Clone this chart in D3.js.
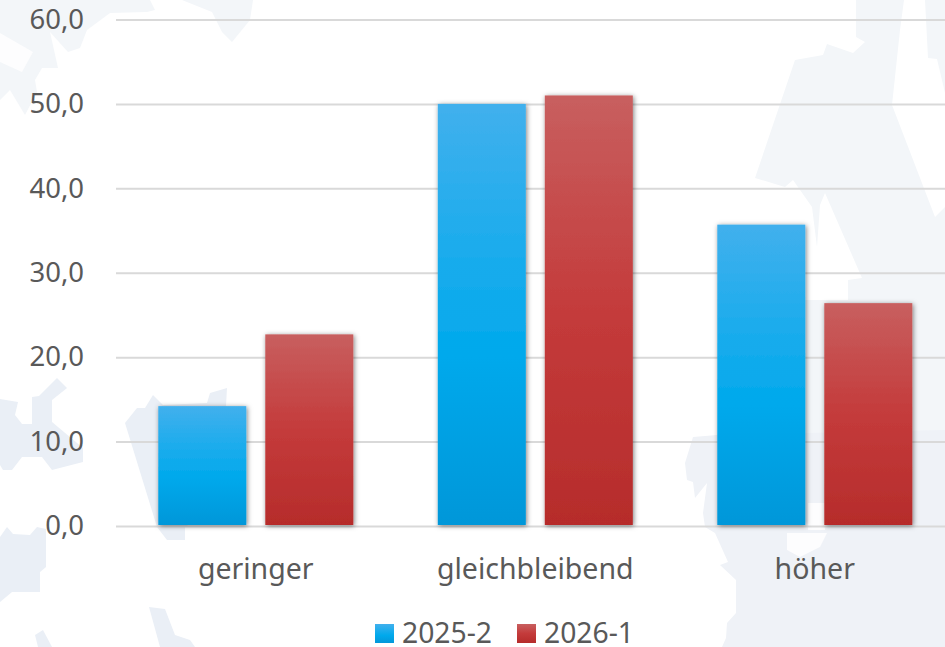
<!DOCTYPE html>
<html>
<head>
<meta charset="utf-8">
<script src="https://cdnjs.cloudflare.com/ajax/libs/d3/7.8.5/d3.min.js"></script>
<style>
  html, body { margin: 0; padding: 0; background: #fff; overflow: hidden; }
  text { font-family: "Noto Sans", sans-serif; fill: #595959; }
</style>
</head>
<body>
<div id="chart"></div>
<script>
var categories = ["geringer", "gleichbleibend", "höher"];
var series_names = ["2025-2", "2026-1"];
var values_2025_2 = [14.2, 50.0, 35.7];
var values_2026_1 = [22.7, 51.0, 26.4];
var y_ticks = [0, 10, 20, 30, 40, 50, 60];

// Pale map shapes behind the plot.
var backdrop_upper = [
    "0,0 150,0 155,10 147,12 110,13 87,30 80,48 68,52 50,32 58,68 42,68 35,80 37,92 25,115 10,90 0,100",
    "182,0 253,0 250,20 232,42 222,32 212,12",
    "795,60 823,55 827,44 853,53 865,42 856,37 856,0 904,0 900,30 892,105 935,217 945,207 945,440 805,440 717,435 805,300 848,300 848,280 862,278 825,193 820,205 817,247 812,207 793,180 785,187 755,178",
    "925,0 945,0 945,93 937,59 928,58"
];
var backdrop_lower = [
    "0,399 18,402 15,415 22,424 32,424 32,397 39,396 57,378 67,388 52,400 52,422 83,448 83,462 52,470 42,457 22,457 12,470 3,470 0,465",
    "125,423 137,408 145,408 153,395 163,405 207,403 210,393 227,388 226,406 230,500 185,527 185,540 167,540 157,527",
    "0,537 7,527 13,534 30,535 37,527 46,529 46,567 40,572 40,592 12,592 0,602",
    "149,607 165,609 175,635 190,640 195,647 160,647",
    "35,635 43,630 52,647 38,647"
];
var backdrop_right = [
    "945,430 717,435 693,437 685,463 687,480 693,482 695,498 707,483 703,513 705,527 715,533 728,562 720,565 736,580 736,613 727,623 726,638 722,647 945,647"
];
var backdrop_cuts = [
    "0,33 33,52 22,72 0,62",
    "808,503 825,503 825,530 808,530",
    "787,533 827,533 820,547 800,557 787,550"
];

var width = 945, height = 647;
var svg = d3.select("#chart").append("svg")
    .attr("width", width)
    .attr("height", height);

var defs = svg.append("defs");
function add_gradient(id, stops)
{
    var g = defs.append("linearGradient")
        .attr("id", id)
        .attr("x1", 0).attr("y1", 0).attr("x2", 0).attr("y2", 1);
    stops.forEach(function(s)
    {
        g.append("stop").attr("offset", s[0]).attr("stop-color", s[1]);
    });
}
add_gradient("grad0", [[0, "#41b0ed"], [0.6, "#00a9ec"], [1, "#0497d9"]]);
add_gradient("grad1", [[0, "#c85f5f"], [0.5, "#c43b3b"], [1, "#b62c2b"]]);
var shadow = defs.append("filter").attr("id", "shadow")
    .attr("x", "-20%").attr("y", "-10%").attr("width", "140%").attr("height", "120%");
shadow.append("feDropShadow")
    .attr("dx", 1).attr("dy", 1).attr("stdDeviation", 2.5)
    .attr("flood-color", "#000").attr("flood-opacity", 0.5);

function draw_backdrop(shapes, colour)
{
    svg.append("g").selectAll("polygon")
        .data(shapes)
        .enter().append("polygon")
        .attr("points", function(d) { return d; })
        .attr("fill", colour);
}
draw_backdrop(backdrop_upper, "#f3f6f9");
draw_backdrop(backdrop_right, "#eff2f7");
draw_backdrop(backdrop_lower, "#eaeff6");
draw_backdrop(backdrop_cuts, "#fdfdfe");

var y = d3.scaleLinear().domain([0, 60]).range([526, 19.5]);
var x0 = d3.scaleBand().domain(categories).range([116, 954.5]);
var x1 = d3.scaleBand().domain(series_names).range([42.3, 237.3]).paddingInner(0.1776);

var grid = d3.axisLeft(y)
    .tickValues(y_ticks)
    .tickSize(-829)
    .tickPadding(32)
    .tickFormat(function(d) { return d3.format(".1f")(d).replace(".", ","); });
var y_axis = svg.append("g")
    .attr("transform", "translate(116,0)")
    .call(grid);
y_axis.select(".domain").remove();
y_axis.selectAll("line").attr("stroke", "#d9d9d9").attr("stroke-width", 2);
y_axis.selectAll("text").attr("font-size", 27.5).attr("fill", "#595959")
    .attr("font-family", "\"Noto Sans\", sans-serif");

var x_axis = d3.axisBottom(x0).tickSize(0).tickPadding(33);
var x_g = svg.append("g").attr("transform", "translate(0,526)").call(x_axis);
x_g.select(".domain").remove();
x_g.selectAll("text").attr("font-size", 28.5).attr("fill", "#595959")
    .attr("font-family", "\"Noto Sans\", sans-serif");

[values_2025_2, values_2026_1].forEach(function(vals, s)
{
    svg.append("g").selectAll("rect")
        .data(vals)
        .enter().append("rect")
        .attr("x", function(d, i) { return x0(categories[i]) + x1(series_names[s]); })
        .attr("y", function(d) { return y(d); })
        .attr("width", x1.bandwidth())
        .attr("height", function(d) { return y(0) - y(d) - 1; })
        .attr("fill", "url(#grad" + s + ")")
        .attr("filter", "url(#shadow)");
});

var legend = svg.selectAll(".legend")
    .data(series_names)
    .enter().append("g")
    .attr("class", "legend")
    .attr("transform", function(d, i) { return "translate(" + (375 + i * 142) + ",624)"; });
legend.append("rect")
    .attr("width", 19).attr("height", 19)
    .attr("fill", function(d, i) { return "url(#grad" + i + ")"; });
legend.append("text")
    .attr("x", 27).attr("y", 19)
    .attr("font-size", 28.3)
    .text(function(d) { return d; });
</script>
</body>
</html>
